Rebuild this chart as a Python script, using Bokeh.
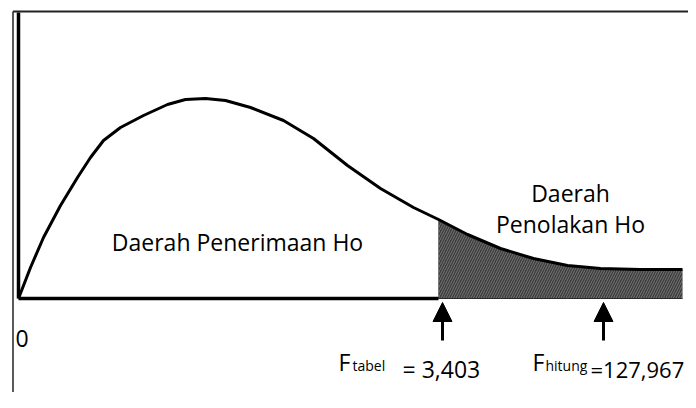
from bokeh.plotting import figure
from bokeh.models import Range1d, Arrow, NormalHead
from bokeh.core.properties import value
from bokeh.embed import file_html
from bokeh.resources import INLINE

# Schematic F-distribution density (arbitrary units)
curve_x = [0, 12, 25, 42, 59, 72, 85, 102, 125, 149, 167, 187, 207, 232, 265,
           295, 329, 362, 395, 420, 449, 482, 515, 549, 582, 622, 664]
curve_y = [0, 31, 61, 93, 121, 141, 158, 171, 183, 194, 199, 200, 198, 191, 178,
           160, 133, 110, 91, 79, 64, 50, 40, 33, 30, 29, 29]

f_tabel_x = 420            # start of the rejection region
arrow_x = [424, 585]       # markers for F_tabel and F_hitung
region_label_accept = "Daerah Penerimaan Ho"
region_label_reject = ["Daerah", "Penolakan Ho"]
f_main = ["F", "F"]
f_subs = ["tabel", "hitung"]
f_values = ["= 3,403", "=127,967"]
origin_label = "0"

FONT = value("Open Sans")
X0, X1 = -18, 670
Y0, Y1 = -94, 298

p = figure(width=688, height=392, x_range=Range1d(X0, X1), y_range=Range1d(Y0, Y1),
           output_backend="svg", toolbar_location=None, min_border=0,
           x_axis_type=None, y_axis_type=None, outline_line_color=None)
p.grid.visible = False
p.background_fill_color = "white"
p.border_fill_color = "white"

# outer frame (left and top edges)
frame_left, frame_top = -5.5, 287
p.line([frame_left, frame_left], [Y0, frame_top], line_color="#222222", line_width=1.5)
p.line([frame_left, X1], [frame_top, frame_top], line_color="#222222", line_width=2)

# shaded rejection region
shade_x = [x for x in curve_x if x >= f_tabel_x]
shade_y = [y for x, y in zip(curve_x, curve_y) if x >= f_tabel_x]
p.varea(x=shade_x, y1=[0] * len(shade_x), y2=shade_y, fill_color="#3d3d3d",
        hatch_pattern="/", hatch_color="#8c8c8c", hatch_scale=5, hatch_weight=0.7)
p.line([f_tabel_x, f_tabel_x], [0, shade_y[0]], line_color="#777777", line_width=1)
p.line(shade_x, [0] * len(shade_x), line_color="#2a2a2a", line_width=1)

# axes
p.line([0, 0], [0, frame_top - 1], line_color="black", line_width=3.5)
p.line([0, f_tabel_x], [0, 0], line_color="black", line_width=3.5)

# density curve
p.line(curve_x, curve_y, line_color="black", line_width=3, line_join="round")

# arrows
for ax in arrow_x:
    p.add_layout(Arrow(end=NormalHead(size=19, fill_color="black", line_color="black", line_width=1),
                       x_start=ax, y_start=-42, x_end=ax, y_end=-4,
                       line_color="black", line_width=3))

# region labels
p.text(x=[219], y=[57], text=[region_label_accept], text_font=FONT, text_font_size="23px",
       text_align="center", text_baseline="alphabetic", text_color="black")
p.text(x=[552, 552], y=[106, 75], text=region_label_reject, text_font=FONT,
       text_font_size="23px", text_align="center", text_baseline="alphabetic", text_color="black")

# origin label
p.text(x=[-3], y=[-40], text=[origin_label], text_font=FONT, text_font_size="23px",
       text_align="left", text_baseline="alphabetic", text_color="black")

# F labels with subscripts and values
p.text(x=[320, 514], y=[-63, -63], text=f_main, text_font=FONT, text_font_size="23px",
       text_align="left", text_baseline="alphabetic", text_color="black")
p.text(x=[334, 527], y=[-67, -67], text=f_subs, text_font=FONT, text_font_size="14px",
       text_align="left", text_baseline="alphabetic", text_color="black")
p.text(x=[384], y=[-70], text=[f_values[0]], text_font=FONT, text_font_size="23px",
       text_align="left", text_baseline="alphabetic", text_color="black")
p.text(x=[572], y=[-70], text=[f_values[1]], text_font=FONT, text_font_size="22px",
       text_align="left", text_baseline="alphabetic", text_color="black")

open("out.html", "w").write(file_html(p, INLINE))
